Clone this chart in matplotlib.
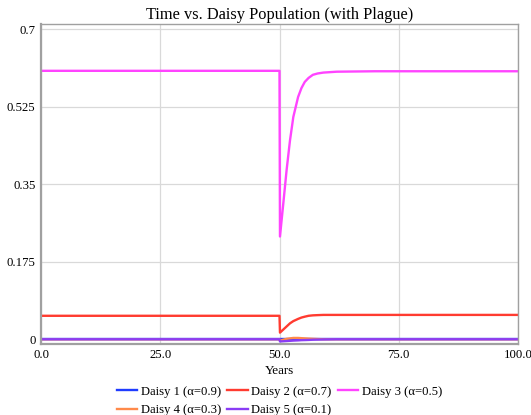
import numpy as np
import matplotlib.pyplot as plt

# =============================================================================
# Data
# =============================================================================

years_flat = [0.0, 50.0]
years_after = [50.1, 50.8, 51.5, 52.2, 52.9, 53.9, 54.6, 55.3, 56.1, 57.0,
               58.0, 59.2, 62.0, 70.0, 100.0]

daisy1 = [0.0, 0.0] + [0.0] * 15
daisy2 = [0.053, 0.053] + [0.015, 0.022, 0.029, 0.036, 0.041, 0.046, 0.049,
                           0.051, 0.053, 0.054, 0.0545, 0.055, 0.055, 0.055,
                           0.055]
daisy3 = [0.606, 0.606] + [0.232, 0.307, 0.383, 0.449, 0.502, 0.547, 0.567,
                           0.581, 0.590, 0.597, 0.600, 0.602, 0.604, 0.605,
                           0.605]
daisy4 = [0.0, 0.0] + [-0.003, -0.001, 0.001, 0.002, 0.003, 0.003, 0.0025,
                       0.002, 0.0015, 0.001, 0.0005, 0.0, 0.0, 0.0, 0.0]
daisy5 = [0.0, 0.0] + [-0.005, -0.0045, -0.004, -0.0035, -0.003, -0.0025,
                       -0.002, -0.0018, -0.0015, -0.001, -0.0007, -0.0004,
                       0.0, 0.0, 0.0]

labels = ["Daisy 1 (α=0.9)", "Daisy 2 (α=0.7)", "Daisy 3 (α=0.5)",
          "Daisy 4 (α=0.3)", "Daisy 5 (α=0.1)"]
colors = ["#1f3cff", "#ff3b30", "#ff44ff", "#ff8a4a", "#8a3cf5"]

y_ticks = [0, 0.175, 0.35, 0.525, 0.7]
y_tick_labels = ["0", "0.175", "0.35", "0.525", "0.7"]
x_ticks = [0, 25, 50, 75, 100]
x_tick_labels = ["0.0", "25.0", "50.0", "75.0", "100.0"]

# =============================================================================
# Plot
# =============================================================================

plt.rcParams["font.family"] = ["Liberation Serif", "DejaVu Serif"]

years = np.array(years_flat + years_after)
series = [daisy1, daisy2, daisy3, daisy4, daisy5]

fig = plt.figure(figsize=(5.31, 4.15), dpi=100)
ax = fig.add_axes([41 / 531, 1 - 343.7 / 415, 477 / 531, 319.4 / 415])

lines = []
for s, c, lab in zip(series, colors, labels):
    (ln,) = ax.plot(years, s, color=c, linewidth=1.7, label=lab)
    lines.append(ln)

ax.set_xlim(0, 100)
ax.set_ylim(-0.01, 0.711)
ax.set_xticks(x_ticks)
ax.set_xticklabels(x_tick_labels)
ax.set_yticks(y_ticks)
ax.set_yticklabels(y_tick_labels)
ax.tick_params(length=0, labelsize=9.2, pad=4)
ax.grid(True, color="#d9d9d9", linewidth=0.9)
for side in ["left", "bottom", "right", "top"]:
    ax.spines[side].set_color("#a0a0a0")
    ax.spines[side].set_linewidth(1.0)
ax.spines["left"].set_linewidth(1.6)
ax.spines["bottom"].set_linewidth(1.6)

ax.set_title("Time vs. Daisy Population (with Plague)", fontsize=11.8, pad=4)
ax.set_xlabel("Years", fontsize=9.4, labelpad=3)

# matplotlib fills legend columns first; reorder so rows read 1-2-3 / 4-5
leg_order = [0, 3, 1, 4, 2]
ax.legend([lines[i] for i in leg_order], [labels[i] for i in leg_order],
          loc="upper center", bbox_to_anchor=(0.5, -0.112), ncol=3,
          frameon=False, fontsize=9.1, handlelength=1.6, handletextpad=0.3,
          columnspacing=0.5, labelspacing=0.5, borderpad=0)

fig.savefig("out.png", dpi=100)
